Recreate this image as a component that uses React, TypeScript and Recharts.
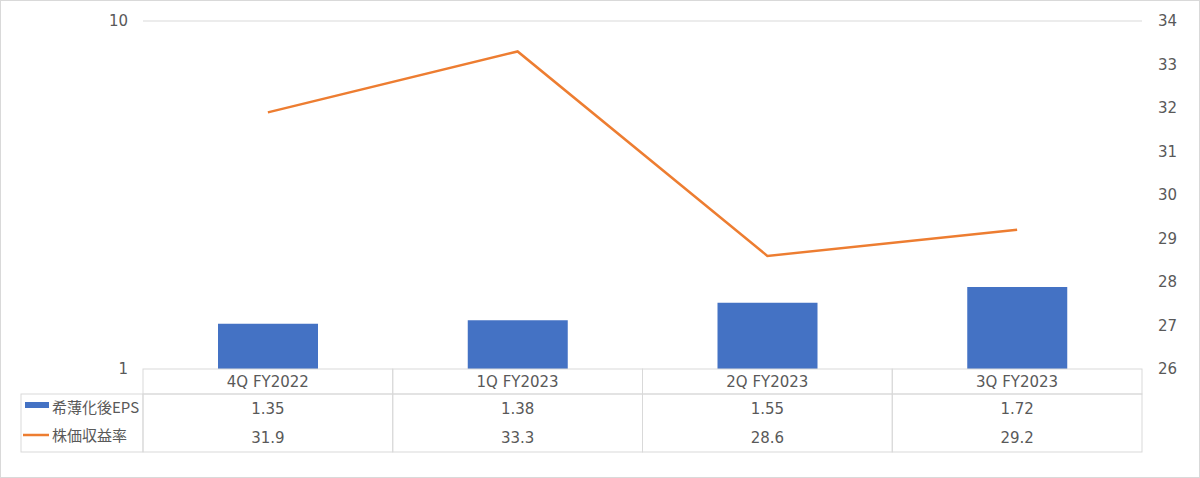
import React from 'react';
import {
  ComposedChart,
  Bar,
  Line,
  XAxis,
  YAxis,
  ReferenceLine,
} from 'recharts';

const quarters = ['4Q FY2022', '1Q FY2023', '2Q FY2023', '3Q FY2023'];
const epsValues = [1.35, 1.38, 1.55, 1.72];
const perValues = [31.9, 33.3, 28.6, 29.2];
const leftTicks = [1, 10];
const rightTicks = [26, 27, 28, 29, 30, 31, 32, 33, 34];

const epsName = '希薄化後EPS';
const perName = '株価収益率';

const data = quarters.map((q, i) => ({ quarter: q, eps: epsValues[i], per: perValues[i] }));

const WIDTH = 1200;
const HEIGHT = 478;
const MARGIN = { top: 21, right: 8, bottom: 0, left: 103 };
const LEFT_AXIS_W = 40;
const RIGHT_AXIS_W = 50;
const PLOT_W = WIDTH - MARGIN.left - MARGIN.right - LEFT_AXIS_W - RIGHT_AXIS_W;
const COL_W = PLOT_W / quarters.length;

const BLUE = '#4472C4';
const ORANGE = '#ED7D31';
const GRID = '#d9d9d9';
const TEXT = '#595959';
// Verdana-like latin glyphs, CJK falls back to Noto
const FONT = '"DejaVu Sans", "Noto Sans CJK JP", sans-serif';
const CJK_FONT = '"Noto Sans CJK JP", sans-serif';

// x axis tick that draws one column of the data table
function TableTick(props: any) {
  const { x, y, payload } = props;
  const i = payload.index;
  const left = x - COL_W / 2;
  const headH = 25;
  const bodyH = 58;
  return (
    <g>
      <rect x={left} y={y} width={COL_W} height={headH} fill="none" stroke={GRID} />
      <rect x={left} y={y + headH} width={COL_W} height={bodyH} fill="none" stroke={GRID} />
      <text x={x} y={y + 18} textAnchor="middle" fill={TEXT} fontSize={15} fontFamily={FONT}>
        {quarters[i]}
      </text>
      <text x={x} y={y + 45} textAnchor="middle" fill={TEXT} fontSize={15} fontFamily={FONT}>
        {epsValues[i].toFixed(2)}
      </text>
      <text x={x} y={y + 74} textAnchor="middle" fill={TEXT} fontSize={15} fontFamily={FONT}>
        {perValues[i].toFixed(1)}
      </text>
      {i === 0 && (
        <g>
          <rect x={21} y={y + headH} width={left - 21} height={bodyH} fill="none" stroke={GRID} />
          <rect x={25} y={y + 33} width={24} height={6} fill={BLUE} />
          <text x={52} y={y + 44} fill={TEXT} fontSize={15} fontFamily={CJK_FONT}>
            {epsName}
          </text>
          <line x1={23} x2={49} y1={y + 66} y2={y + 66} stroke={ORANGE} strokeWidth={2.5} />
          <text x={52} y={y + 72} fill={TEXT} fontSize={15} fontFamily={CJK_FONT}>
            {perName}
          </text>
        </g>
      )}
    </g>
  );
}

export default function App() {
  return (
    <div style={{ position: 'absolute', left: 0, top: 0, width: WIDTH, height: HEIGHT, background: '#fff' }}>
      <ComposedChart width={WIDTH} height={HEIGHT} data={data} margin={MARGIN}>
        <XAxis
          dataKey="quarter"
          xAxisId="x"
          height={109}
          axisLine={false}
          tickLine={false}
          tickSize={0}
          tickMargin={0}
          interval={0}
          tick={<TableTick />}
        />
        <YAxis
          yAxisId="left"
          orientation="left"
          scale="log"
          type="number"
          domain={[1, 10]}
          ticks={leftTicks}
          allowDataOverflow
          width={LEFT_AXIS_W}
          axisLine={false}
          tickLine={false}
          tickSize={0}
          tickMargin={15}
          tick={{ fill: TEXT, fontSize: 15, fontFamily: FONT }}
        />
        <YAxis
          yAxisId="right"
          orientation="right"
          type="number"
          domain={[26, 34]}
          ticks={rightTicks}
          width={RIGHT_AXIS_W}
          axisLine={false}
          tickLine={false}
          tickSize={0}
          tickMargin={16}
          tick={{ fill: TEXT, fontSize: 15, fontFamily: FONT }}
        />
        <ReferenceLine yAxisId="left" xAxisId="x" y={10} stroke={GRID} strokeWidth={1} />
        <Bar
          dataKey="eps"
          name={epsName}
          xAxisId="x"
          yAxisId="left"
          fill={BLUE}
          barSize={100}
          isAnimationActive={false}
        />
        <Line
          dataKey="per"
          name={perName}
          xAxisId="x"
          yAxisId="right"
          type="linear"
          stroke={ORANGE}
          strokeWidth={2.5}
          dot={false}
          activeDot={false}
          isAnimationActive={false}
        />
      </ComposedChart>
      <div
        style={{
          position: 'absolute',
          left: 0,
          top: 0,
          width: WIDTH,
          height: HEIGHT,
          boxSizing: 'border-box',
          border: `1px solid ${GRID}`,
          pointerEvents: 'none',
        }}
      />
    </div>
  );
}
